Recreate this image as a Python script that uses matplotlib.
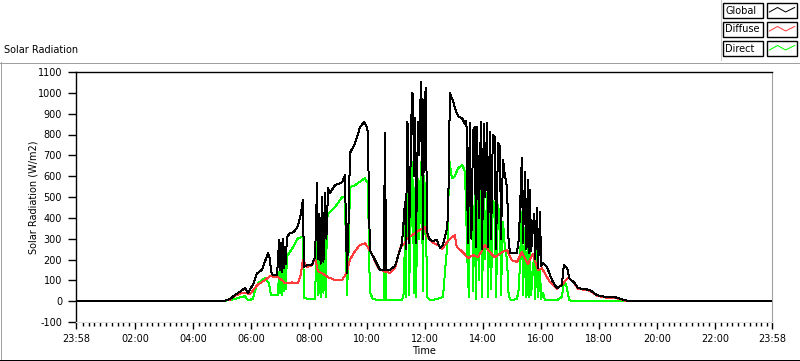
import matplotlib
matplotlib.use("Agg")
import matplotlib.pyplot as plt
from matplotlib.lines import Line2D
from matplotlib.patches import Rectangle

# ---------------- data (time in hours of day, values in W/m2) ----------------
global_pts = [
    (-0.033, 0), (5.00, 0), (5.03, 0), (5.28, 10), (5.45, 30), (5.62, 45), (5.79, 62),
    (5.90, 40), (6.07, 80), (6.21, 134), (6.38, 150), (6.48, 190), (6.59, 230), (6.66, 200),
    (6.69, 140), (6.76, 125), (6.90, 125), (6.97, 293), (7.00, 150), (7.04, 280), (7.07, 140),
    (7.10, 300), (7.14, 160), (7.17, 260), (7.20, 180), (7.24, 307), (7.34, 326), (7.45, 330),
    (7.52, 340), (7.62, 360), (7.72, 420), (7.79, 485), (7.83, 165), (7.93, 173), (8.10, 175),
    (8.21, 211), (8.28, 566), (8.31, 200), (8.36, 420), (8.40, 180), (8.45, 500), (8.50, 190),
    (8.55, 520), (8.60, 300), (8.66, 542), (8.72, 520), (8.90, 557), (9.14, 570), (9.24, 605),
    (9.31, 134), (9.38, 450), (9.41, 710), (9.59, 758), (9.76, 835), (9.90, 860), (9.97, 845),
    (10.03, 811), (10.10, 245), (10.28, 197), (10.45, 149), (10.58, 150), (10.62, 806),
    (10.66, 150), (10.79, 149), (10.97, 170), (11.03, 197), (11.21, 278), (11.31, 475),
    (11.35, 250), (11.38, 859), (11.42, 840), (11.45, 280), (11.55, 998), (11.59, 990),
    (11.62, 600), (11.66, 878), (11.69, 280), (11.76, 859), (11.80, 700), (11.86, 1051),
    (11.90, 900), (11.93, 300), (11.97, 950), (12.03, 1022), (12.07, 331), (12.17, 293),
    (12.28, 290), (12.41, 293), (12.52, 254), (12.62, 269), (12.76, 350), (12.80, 430),
    (12.86, 998), (12.97, 960), (13.03, 926), (13.14, 888), (13.28, 878), (13.38, 850),
    (13.43, 865), (13.48, 280), (13.55, 854), (13.60, 300), (13.66, 820), (13.72, 835),
    (13.76, 260), (13.79, 835), (13.86, 400), (13.93, 859), (13.97, 250), (14.03, 850),
    (14.07, 500), (14.14, 854), (14.17, 260), (14.24, 811), (14.28, 300), (14.34, 800),
    (14.41, 787), (14.45, 250), (14.52, 760), (14.59, 739), (14.62, 300), (14.69, 680),
    (14.76, 600), (14.83, 547), (14.88, 300), (14.93, 230), (15.00, 230), (15.17, 230),
    (15.24, 300), (15.34, 686), (15.38, 280), (15.45, 619), (15.50, 250), (15.55, 580),
    (15.59, 230), (15.62, 533), (15.66, 240), (15.76, 420), (15.80, 200), (15.86, 446),
    (15.90, 160), (15.97, 430), (16.00, 170), (16.07, 182), (16.21, 163), (16.38, 101),
    (16.55, 62), (16.72, 77), (16.79, 173), (16.86, 165), (16.93, 149), (16.97, 110),
    (17.17, 86), (17.28, 62), (17.52, 58), (17.69, 53), (17.93, 29), (18.28, 19),
    (18.55, 19), (18.90, 5), (19.07, 0), (23.967, 0),
]

diffuse_pts = [
    (5.03, 0), (5.28, 8), (5.45, 26), (5.62, 36), (5.79, 40), (5.97, 33), (6.21, 77),
    (6.48, 101), (6.66, 120), (6.93, 115), (7.07, 101), (7.17, 86), (7.41, 90), (7.62, 86),
    (7.72, 130), (7.79, 197), (7.93, 163), (8.10, 172), (8.21, 205), (8.31, 144), (8.45, 134),
    (8.66, 115), (8.90, 101), (9.14, 101), (9.31, 139), (9.41, 200), (9.59, 240), (9.76, 270),
    (9.93, 278), (10.03, 259), (10.17, 226), (10.38, 160), (10.55, 145), (10.79, 135),
    (10.97, 160), (11.14, 254), (11.31, 280), (11.38, 302), (11.55, 317), (11.72, 331),
    (11.86, 346), (12.00, 355), (12.10, 307), (12.24, 283), (12.45, 270), (12.59, 250),
    (12.76, 283), (12.93, 307), (13.03, 317), (13.10, 259), (13.31, 235), (13.48, 206),
    (13.66, 221), (13.83, 211), (14.07, 269), (14.24, 235), (14.41, 211), (14.66, 235),
    (14.83, 245), (15.00, 197), (15.17, 187), (15.34, 235), (15.55, 178), (15.72, 226),
    (15.90, 149), (16.03, 158), (16.31, 91), (16.55, 60), (16.72, 80), (16.93, 110),
    (16.97, 112), (17.17, 82), (17.28, 58), (17.52, 55), (17.69, 50), (17.93, 26),
    (18.28, 16), (18.55, 16), (18.90, 3), (19.07, 0),
]

direct_pts = [
    (5.03, 0), (5.45, 10), (5.62, 19), (5.79, 24), (5.90, 5), (6.07, 10), (6.14, 53),
    (6.24, 86), (6.48, 110), (6.62, 86), (6.69, 29), (6.93, 29), (6.97, 139), (7.00, 40),
    (7.04, 150), (7.07, 30), (7.10, 180), (7.14, 50), (7.17, 170), (7.20, 60), (7.24, 216),
    (7.41, 250), (7.62, 302), (7.79, 310), (7.83, 15), (8.03, 10), (8.21, 10), (8.28, 389),
    (8.31, 30), (8.36, 300), (8.40, 20), (8.45, 380), (8.50, 40), (8.55, 403), (8.58, 20),
    (8.62, 400), (8.66, 418), (8.90, 451), (9.14, 499), (9.24, 500), (9.31, 30), (9.38, 300),
    (9.41, 547), (9.59, 557), (9.93, 590), (10.03, 566), (10.10, 43), (10.20, 10),
    (10.45, 5), (10.58, 5), (10.62, 550), (10.66, 5), (11.03, 5), (11.21, 5), (11.28, 40),
    (11.31, 400), (11.35, 20), (11.38, 653), (11.42, 550), (11.45, 30), (11.55, 667),
    (11.59, 500), (11.62, 40), (11.66, 542), (11.69, 20), (11.76, 586), (11.80, 300),
    (11.86, 667), (11.90, 500), (11.93, 50), (11.97, 600), (12.03, 480), (12.07, 20),
    (12.17, 5), (12.41, 10), (12.62, 20), (12.72, 190), (12.79, 300), (12.83, 686),
    (12.93, 590), (13.03, 600), (13.14, 638), (13.28, 653), (13.38, 624), (13.48, 120),
    (13.52, 20), (13.55, 600), (13.62, 590), (13.66, 50), (13.72, 560), (13.76, 10),
    (13.79, 580), (13.86, 100), (13.93, 560), (13.97, 20), (14.03, 560), (14.07, 200),
    (14.14, 520), (14.17, 20), (14.24, 500), (14.28, 60), (14.34, 480), (14.41, 470),
    (14.45, 20), (14.52, 460), (14.59, 400), (14.62, 30), (14.69, 380), (14.76, 250),
    (14.83, 200), (14.88, 40), (14.93, 10), (15.00, 5), (15.17, 10), (15.24, 60),
    (15.34, 430), (15.38, 30), (15.45, 350), (15.50, 20), (15.55, 300), (15.59, 20),
    (15.62, 250), (15.66, 30), (15.76, 220), (15.80, 10), (15.86, 300), (15.90, 20),
    (15.97, 150), (16.00, 10), (16.07, 40), (16.14, 5), (16.55, 5), (16.72, 20),
    (16.79, 90), (16.86, 80), (16.93, 40), (16.97, 5), (17.07, 0), (18.90, 0),
]

series = [("Global", global_pts, "#000000"),
          ("Diffuse", diffuse_pts, "#ff3c3c"),
          ("Direct", direct_pts, "#00ff00")]

x_tick_pos = [-2 / 60] + list(range(2, 23, 2)) + [24 - 2 / 60]
x_tick_labels = ["23:58"] + [f"{h:02d}:00" for h in range(2, 23, 2)] + ["23:58"]
y_ticks = list(range(-100, 1101, 100))

# ---------------- figure ----------------
W, H = 800, 361
fig = plt.figure(figsize=(W / 100, H / 100), dpi=100)
fig.patch.set_facecolor("white")
FS = 7
LW = 0.72


def fx(px):
    return px / W


def fy(py):
    return 1 - py / H


ax = fig.add_axes([fx(76), fy(322), 696 / W, 250 / H])

# draw Direct first, then Diffuse, with Global on top
zorders = {"Global": 4, "Diffuse": 3, "Direct": 2}
for name, pts, col in series:
    t, v = zip(*pts)
    ax.plot(t, v, color=col, lw=LW, antialiased=False, zorder=zorders[name])

ax.set_xlim(-2 / 60, 24 - 2 / 60)
ax.set_ylim(-100, 1100)
ax.set_yticks(y_ticks)
ax.set_yticklabels([str(y) for y in y_ticks])
ax.set_xticks(x_tick_pos)
ax.set_xticklabels(x_tick_labels)
ax.set_xticks([m / 5 for m in range(1, 120) if m % 10 != 0], minor=True)

ax.tick_params(axis="both", which="major", direction="out", labelsize=FS, color="black", width=1)
ax.tick_params(axis="x", which="major", length=5, pad=4)
ax.tick_params(axis="x", which="minor", length=3, width=1, color="black")
ax.tick_params(axis="y", which="major", length=6, pad=4)

for s in ("left", "top"):
    ax.spines[s].set_color("black")
    ax.spines[s].set_linewidth(1)
ax.spines["right"].set_color("#a0a0a0")
ax.spines["bottom"].set_color("#e0e0e0")

ax.set_ylabel("Solar Radiation (W/m2)", fontsize=FS)
ax.yaxis.set_label_coords((38 - 76) / 696, 0.5)
ax.set_xlabel("Time", fontsize=FS)
ax.xaxis.set_label_coords(0.5, (322 - 346) / 250)


# outer frame of the graph
def fline(x0, y0, x1, y1, color, lw=LW):
    fig.add_artist(Line2D([fx(x0), fx(x1)], [fy(y0), fy(y1)], color=color, lw=lw,
                          transform=fig.transFigure, antialiased=False))


fline(0, 62.5, 800, 62.5, "#a0a0a0")
fline(0.5, 62, 0.5, 360, "#a0a0a0")
fline(0, 359.5, 800, 359.5, "black")
fline(799.5, 62, 799.5, 360, "black")
fline(720.5, 0, 720.5, 60, "#c8c8c8")

fig.text(fx(4), fy(50), "Solar Radiation", fontsize=FS, ha="left", va="center")

# legend (LabVIEW style boxes)
rows = [(3, 18), (22, 37), (41, 56)]
zig = [(0.08, 0.6), (0.35, 0.3), (0.62, 0.6), (0.92, 0.3)]
for (name, pts, col), (y0, y1) in zip(series, rows):
    fig.add_artist(Rectangle((fx(723), fy(y1)), 40 / W, (y1 - y0) / H, transform=fig.transFigure,
                             facecolor="white", edgecolor="black", lw=1))
    fig.add_artist(Rectangle((fx(767), fy(y1)), 30 / W, (y1 - y0) / H, transform=fig.transFigure,
                             facecolor="white", edgecolor="black", lw=1))
    fig.text(fx(725), fy((y0 + y1) / 2), name, fontsize=FS, ha="left", va="center")
    xs = [fx(767 + 30 * a) for a, b in zig]
    ys = [fy(y0 + (y1 - y0) * b) for a, b in zig]
    fig.add_artist(Line2D(xs, ys, color=col, lw=LW, transform=fig.transFigure))

fig.savefig("out.png", dpi=100, facecolor="white")
